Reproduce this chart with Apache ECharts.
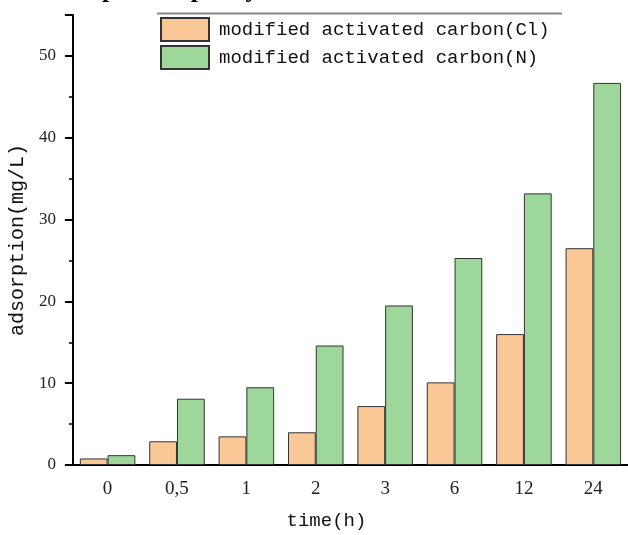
<!DOCTYPE html>
<html>
<head>
<meta charset="utf-8">
<script src="https://cdn.jsdelivr.net/npm/echarts@6/dist/echarts.min.js"></script>
<style>
  html, body { margin: 0; padding: 0; background: #fff; }
  #main { width: 628px; height: 535px; }
</style>
</head>
<body>
<div id="main"></div>
<script>
const categories = ['0', '0,5', '1', '2', '3', '6', '12', '24'];
const carbonCl = [0.8, 2.9, 3.5, 4.0, 7.2, 10.1, 16.0, 26.5];
const carbonN = [1.2, 8.1, 9.5, 14.6, 19.5, 25.3, 33.2, 46.7];
const seriesNames = ['modified activated carbon(Cl)', 'modified activated carbon(N)'];

const monoFont = '"Liberation Mono", "DejaVu Sans Mono", monospace';
const serifFont = '"Liberation Serif", "DejaVu Serif", serif';

window.addEventListener('DOMContentLoaded', () => {
    const chart = echarts.init(document.getElementById('main'));

    chart.setOption({
        animation: false,
        backgroundColor: '#fff',
        graphic: [
            {
                // title of the original figure, cut off at the top edge
                type: 'text',
                x: 34,
                y: 3,
                style: {
                    text: 'Adsorption capacity',
                    font: 'bold 26px "Liberation Serif", serif',
                    fill: '#000',
                    verticalAlign: 'bottom'
                }
            },
            {
                type: 'line',
                shape: { x1: 157, y1: 13.5, x2: 562, y2: 13.5 },
                style: { stroke: '#888', lineWidth: 2 }
            }
        ],
        legend: {
            orient: 'vertical',
            left: 160,
            top: 17,
            icon: 'rect',
            itemWidth: 48,
            itemHeight: 23,
            itemGap: 3,
            padding: 0,
            textStyle: {
                fontFamily: monoFont,
                fontSize: 19,
                color: '#111',
                padding: [0, 0, 0, 5]
            },
            data: seriesNames
        },
        grid: {
            left: 71,
            right: -4,
            top: 15,
            bottom: 68
        },
        xAxis: [
            {
                type: 'category',
                data: categories,
                name: 'time(h)',
                nameLocation: 'middle',
                nameGap: 46,
                nameTextStyle: {
                    fontFamily: monoFont,
                    fontSize: 19,
                    color: '#111',
                    padding: [0, 48, 0, 0]
                },
                axisLine: { lineStyle: { color: '#000', width: 2 } },
                axisTick: {
                    alignWithLabel: true,
                    length: 8,
                    lineStyle: { color: '#000', width: 2 }
                },
                axisLabel: {
                    margin: 15,
                    fontFamily: serifFont,
                    fontSize: 19,
                    color: '#222'
                }
            },
            {
                type: 'category',
                data: categories,
                position: 'bottom',
                axisLine: { show: false },
                axisTick: {
                    length: 4,
                    lineStyle: { color: '#000', width: 1.5 }
                },
                axisLabel: { show: false }
            }
        ],
        yAxis: {
            type: 'value',
            min: 0,
            max: 55,
            interval: 10,
            name: 'adsorption(mg/L)',
            nameLocation: 'middle',
            nameGap: 42,
            nameTextStyle: {
                fontFamily: monoFont,
                fontSize: 20,
                color: '#111'
            },
            splitLine: { show: false },
            axisLine: { show: true, lineStyle: { color: '#000', width: 2 } },
            axisTick: {
                show: true,
                length: 8,
                lineStyle: { color: '#000', width: 2 }
            },
            minorTick: {
                show: true,
                splitNumber: 2,
                length: 4,
                lineStyle: { color: '#000', width: 1.5 }
            },
            axisLabel: {
                margin: 17,
                fontFamily: serifFont,
                fontSize: 17,
                color: '#222',
                showMaxLabel: false
            }
        },
        series: [
            {
                name: seriesNames[0],
                type: 'bar',
                data: carbonCl,
                barGap: '0%',
                barCategoryGap: '20%',
                itemStyle: {
                    color: '#FAC896',
                    borderColor: '#333',
                    borderWidth: 1
                }
            },
            {
                name: seriesNames[1],
                type: 'bar',
                data: carbonN,
                barGap: '0%',
                barCategoryGap: '20%',
                itemStyle: {
                    color: '#9DD79A',
                    borderColor: '#333',
                    borderWidth: 1
                }
            }
        ]
    });
});
</script>
</body>
</html>
